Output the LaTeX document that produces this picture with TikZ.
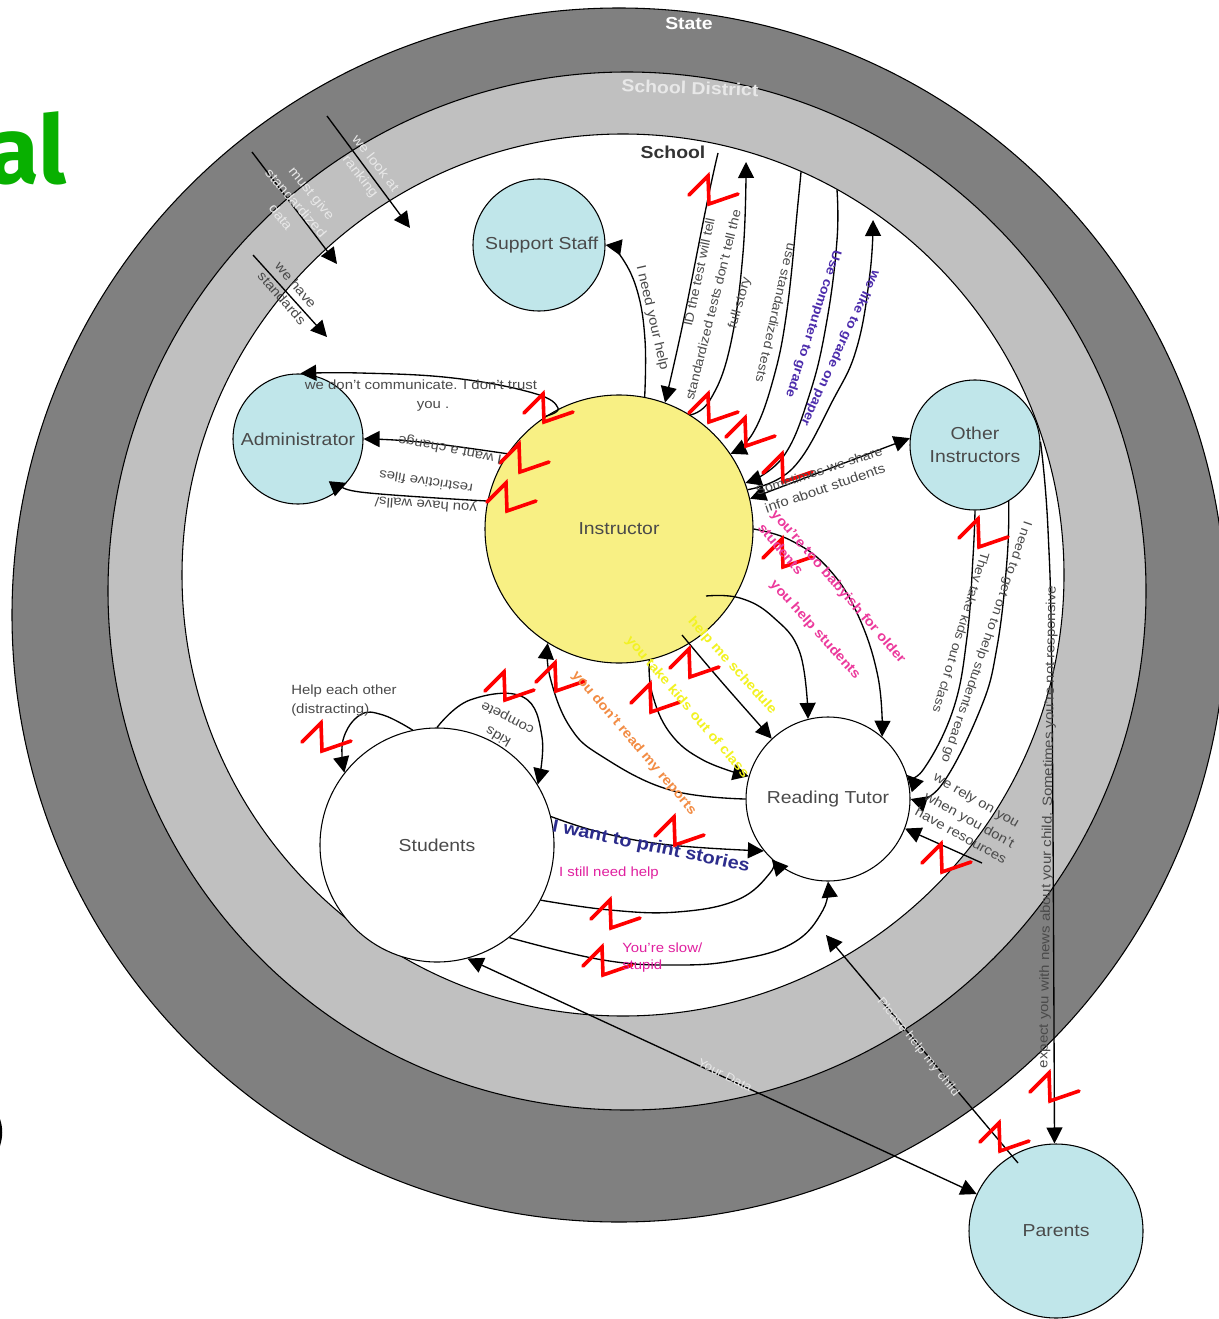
\documentclass[tikz,border=0pt]{standalone}
\usepackage{fontspec}
\usetikzlibrary{arrows.meta}
\setmainfont{Liberation Sans}[FakeStretch=1.12]
\newfontfamily\greenfont{Fira Sans}
\definecolor{ringA}{HTML}{808080}
\definecolor{ringB}{HTML}{C0C0C0}
\definecolor{nodeblue}{HTML}{C0E6EA}
\definecolor{nodeyellow}{HTML}{F8F084}
\definecolor{labgray}{HTML}{4A4A4A}
\definecolor{pinktext}{HTML}{EC3A9C}
\definecolor{magtext}{HTML}{E0209F}
\definecolor{yellowtext}{HTML}{F2F222}
\definecolor{orangetext}{HTML}{F28C44}
\definecolor{bluetext}{HTML}{2C2C8C}
\definecolor{purpletext}{HTML}{4C2CAC}
\definecolor{whitetext}{HTML}{E8E8E8}
\definecolor{greentext}{HTML}{08B000}
\tikzset{
  ring/.style={draw=black,line width=.8pt},
  actor/.style={circle,draw=black,line width=.8pt,inner sep=0pt,text=labgray,align=center,font=\fontsize{13}{17}\selectfont},
  lab/.style={inner sep=0pt,text=labgray,font=\fontsize{10}{12}\selectfont},
  labs/.style={lab,font=\fontsize{9.5}{12}\selectfont},
  wlab/.style={lab,text=whitetext},
  plab/.style={inner sep=0pt,text=pinktext,font=\bfseries\fontsize{10}{12}\selectfont},
  ylab/.style={plab,text=yellowtext},
  olab/.style={plab,text=orangetext},
  ulab/.style={plab,text=purpletext,font=\bfseries\fontsize{9.5}{12}\selectfont},
  mlab/.style={lab,text=magtext},
  title/.style={inner sep=0pt,font=\bfseries\fontsize{13}{15}\selectfont},
  conn/.style={draw=black,line width=1pt},
  tip/.style={conn,-{Triangle[length=12pt,width=12pt]}},
  dtip/.style={conn,{Triangle[length=12pt,width=12pt]}-{Triangle[length=12pt,width=12pt]}},
  curve/.style={smooth,tension=.7},
  zig/.style={draw=red,line width=2.7pt,line join=miter,line cap=round}
}
\begin{document}
\begin{tikzpicture}[x=.75pt,y=-.75pt]
\useasboundingbox (0,0) rectangle (1219,1319);
\clip (0,0) rectangle (1219,1319);
\fill[white] (0,0) rectangle (1219,1319);
% rings
\draw[ring,fill=ringA] (619,615) circle [radius=607];
\draw[ring,fill=ringB] (627,591) circle [radius=519];
\draw[ring,fill=white] (623,575) circle [radius=441];
% stray page fragments
\node[inner sep=0pt,anchor=base east,text=greentext,font=\greenfont\bfseries\fontsize{71}{80}\selectfont] (frag) at (67,184) {al};
\fill[black] (0,1119) .. controls (3,1128) and (3,1136) .. (0,1146) -- cycle;
% actors
\node[actor,fill=nodeblue,minimum size=99pt] (sup) at (539,245) {\hspace*{4pt}Support Staff};
\node[actor,fill=nodeblue,minimum size=97.5pt] (adm) at (298,439) {Administrator};
\node[actor,fill=nodeyellow,minimum size=201pt] (ins) at (619,529) {Instructor};
\node[actor,fill=nodeblue,minimum size=97.5pt] (oth) at (975,445) {Other\\Instructors};
\node[actor,fill=white,minimum size=123pt] (rt) at (828,799) {Reading Tutor};
\node[actor,fill=white,minimum size=175.5pt] (stu) at (437,845) {Students};
\node[actor,fill=nodeblue,minimum size=130.5pt] (par) at (1056,1231) {Parents};
% free ends
\coordinate (fB) at (718,153);
\coordinate (fC) at (746,162);
\coordinate (fD) at (801,172);
\coordinate (fE) at (837,190);
\coordinate (fF) at (873,220);
\coordinate (fI) at (706,596);
\coordinate (fJ) at (682,635);
\coordinate (fR) at (826,935);
\coordinate (fRs) at (1018,1163);
\coordinate (fV) at (982,863);
\coordinate (l1a) at (327,116);
\coordinate (l1b) at (410,228);
\coordinate (l2a) at (252,152);
\coordinate (l2b) at (337,264);
\coordinate (l3a) at (253,255);
\coordinate (l3b) at (327,337);
% connectors
\draw[tip] plot[curve] coordinates {(ins.79) (645,340) (637,290) (620,255) (sup.0)};
\draw[tip] plot[curve] coordinates {(fB) (707,203) (683,323) (ins.70)};
\draw[tip] plot[curve] coordinates {(ins.58) (710,400) (730,347) (743,253) (fC)};
\draw[tip] plot[curve] coordinates {(fD) (798,203) (787,310) (773,380) (753,433) (ins.34)};
\draw[tip] plot[curve] coordinates {(fE) (837,240) (827,320) (810,393) (783,457) (ins.20)};
\draw[tip] plot[curve] coordinates {(ins.17) (793,468) (833,400) (857,347) (870,273) (fF)};
\draw[dtip] (ins.13) -- (oth.174);
\draw[tip] plot[curve] coordinates {(ins.0) (790,540) (827,567) (857,613) (878,677) (rt.49)};
\draw[tip] plot[curve] coordinates {(fI) (740,598) (773,617) (800,653) (rt.104)};
\draw[tip] plot[curve] coordinates {(fJ) (720,680) (rt.133)};
\draw[tip] plot[curve] coordinates {(ins.-77) (652,693) (670,733) (703,760) (rt.164)};
\draw[tip] plot[curve] coordinates {(rt.180) (670,790) (603,757) (570,727) (550,677) (ins.-122)};
\draw[tip] plot[curve] coordinates {(stu.90) (470,700) (523,697) (542,737) (stu.31)};
\draw[tip] plot[curve] coordinates {(stu.102) (383,715) (360,715) (343,740) (stu.142)};
\draw[tip] plot[curve] coordinates {(stu.14) (603,833) (670,845) (rt.-141)};
\draw[tip] plot[curve] coordinates {(stu.-28) (610,910) (677,912) (737,900) (770,873) (rt.-133)};
\draw[tip] plot[curve] coordinates {(stu.-52) (603,960) (677,965) (737,960) (793,943) (823,910) (rt.-90)};
\draw[dtip] (stu.-75) -- (par.155);
\draw[tip] (fRs) -- (fR);
\draw[tip] plot[curve] coordinates {(oth.3) (1048,530) (1052,697) (par.91)};
\draw[tip] plot[curve] coordinates {(oth.-90) (973,557) (967,637) (953,710) (923,770) (rt.17)};
\draw[tip] plot[curve] coordinates {(oth.-59) (1007,560) (997,647) (980,710) (940,787) (rt.0)};
\draw[tip] (fV) -- (rt.-21);
\draw[tip] plot[curve] coordinates {(ins.123) (558,408) (533,393) (453,378) (360,373) (adm.88)};
\draw[tip] plot[curve] coordinates {(ins.146) (420,442) (adm.0)};
\draw[tip] plot[curve] coordinates {(ins.168) (360,492) (adm.-42)};
\draw[tip] (l1a) -- (l1b);
\draw[tip] (l2a) -- (l2b);
\draw[tip] (l3a) -- (l3b);
% red marks
\foreach \x/\y in {689/195,689/413,726/437,763/473,763/558,959/538,922/863,670/668,631/703,536/682,485/691,655/836,591/919,583/966,302/742,1030/1092,980/1142,500/463,487/502,524/413}
  \draw[zig] (\x,\y) -- ++(19,-19) -- ++(1,28) -- ++(29,-10);
% titles
\node[title,text=white] (tState) at (689,24) {State};
\node[title,text=whitetext,rotate=-2] (tDist) at (690,88) {School District};
\node[title,text=black!80] (tSchool) at (673,152) {School};
% labels
\node[lab,rotate=-77] (a1) at (652,318) {I need your help};
\node[labs,rotate=78] (a2) at (699,272) {ID the test will tell};
\node[labs,rotate=76] (a3) at (713,305) {standardized tests don't tell the};
\node[labs,rotate=74] (a4) at (740,303) {full story};
\node[labs,rotate=-103] (a5) at (776,313) {use standardized tests};
\node[ulab,rotate=-108] (a6) at (813,324) {Use computer to grade};
\node[ulab,rotate=-115] (a7) at (840,348) {we like to grade on paper};
\node[labs,rotate=18] (a8) at (819,471) {Sometimes we share};
\node[lab,rotate=19] (a9) at (825,488) {info about students};
\node[lab] (b1) at (421,385) {we don't communicate. I don't trust};
\node[lab] (b2) at (433,406) {you .};
\node[lab,rotate=169] (b3) at (450,449) {I want a change};
\node[lab,rotate=171] (b4) at (426,482) {restrictive files};
\node[lab,rotate=176] (b5) at (426,504) {you have walls/};
\node[plab,rotate=-49] (c1) at (838,587) {you're too babyish for older};
\node[plab,rotate=-50] (c2) at (781,549) {students};
\node[plab,rotate=-48] (c3) at (815,630) {you help students};
\node[ylab,rotate=-48] (c4) at (732,666) {help me schedule};
\node[ylab,rotate=-49.5] (c5) at (687,707) {you take kids out of class};
\node[olab,rotate=-49.6] (c6) at (634,743) {you don't read my reports};
\node[inner sep=0pt,text=bluetext,font=\bfseries\fontsize{13.3}{15}\selectfont,rotate=-11.6] (c7) at (651,847) {I want to print stories};
\node[mlab] (c8) at (609,873) {I still need help};
\node[mlab,anchor=west] (c9) at (622,948) {You're slow/};
\node[mlab,anchor=west] (c10) at (622,966) {stupid};
\node[lab,anchor=west] (d1) at (291,691) {Help each other};
\node[lab,anchor=west] (d2) at (291,710) {(distracting)};
\node[lab,rotate=153] (d3) at (508,717) {compete};
\node[lab,rotate=150] (d4) at (498,737) {kids};
\node[lab,rotate=-30] (e1) at (976,801) {we rely on you};
\node[lab,rotate=-29] (e2) at (969,821) {when you don't};
\node[lab,rotate=-29] (e3) at (961,835) {have resources};
\node[labs,rotate=-107] (e4) at (960,632) {They take kids out of class};
\node[labs,rotate=-109] (e5) at (986,642) {I need to get on to help students read go};
\node[lab,rotate=89] (e6) at (1048,827) {expect you with news about your child.  Sometimes you're not responsive};
\node[wlab,rotate=-52] (f1) at (376,163) {we look at};
\node[wlab,rotate=-52] (f2) at (360,177) {ranking};
\node[wlab,rotate=-51] (f3) at (311,194) {must give};
\node[wlab,rotate=-49] (f4) at (296,203) {standardized};
\node[wlab,rotate=-52] (f5) at (281,217) {data};
\node[lab,rotate=-50] (f6) at (296,285) {we have};
\node[lab,rotate=-49] (f7) at (282,298) {standards};
\node[wlab,rotate=-51,font=\fontsize{9}{11}\selectfont] (g1) at (918,1047) {Please help my child};
\node[wlab,rotate=-27,font=\fontsize{9}{11}\selectfont] (g2) at (725,1075) {Your Data};
\end{tikzpicture}
\end{document}
